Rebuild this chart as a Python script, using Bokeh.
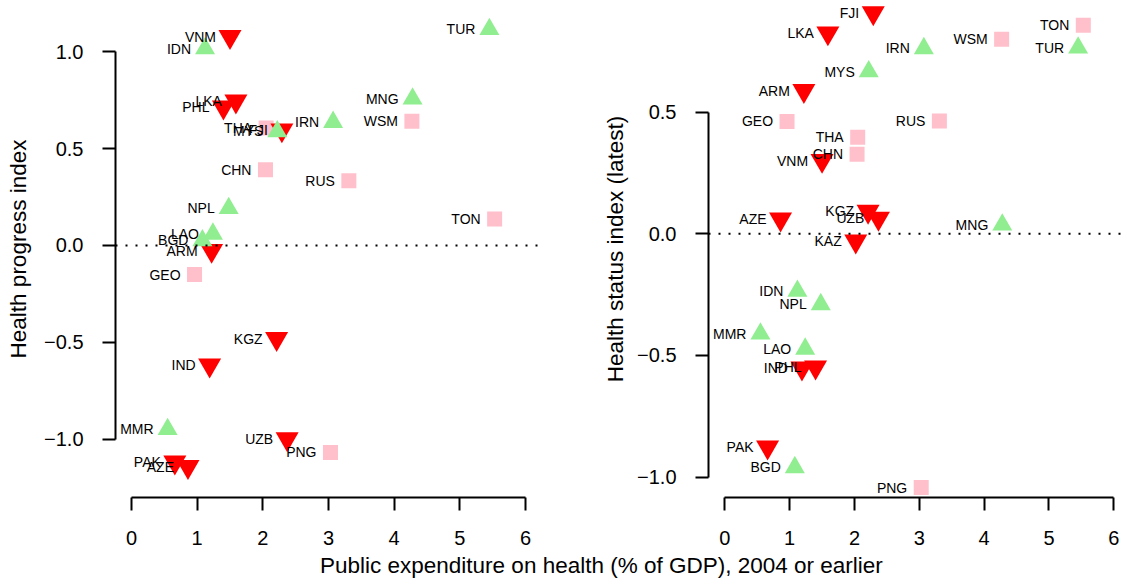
import math
from bokeh.plotting import figure
from bokeh.models import ColumnDataSource, FixedTicker, Span, Div, CustomJSTickFormatter, Range1d
from bokeh.layouts import row, column
from bokeh.core.properties import value
from bokeh.embed import file_html
from bokeh.resources import INLINE

# ---------------- data ----------------
countries = ["TUR", "VNM", "IDN", "MNG", "LKA", "PHL", "THA", "MYS", "FJI", "IRN",
             "WSM", "CHN", "RUS", "NPL", "TON", "LAO", "BGD", "ARM", "GEO", "KGZ",
             "IND", "MMR", "UZB", "PNG", "PAK", "AZE", "KAZ"]
groups = ["up", "down", "up", "up", "down", "down", "square", "up", "down", "up",
          "square", "square", "square", "up", "square", "up", "up", "down", "square", "down",
          "down", "up", "down", "square", "down", "down", "down"]
expenditure = [5.45, 1.50, 1.12, 4.28, 1.59, 1.40, 2.05, 2.22, 2.29, 3.07,
               4.27, 2.04, 3.31, 1.48, 5.53, 1.24, 1.08, 1.22, 0.96, 2.21,
               1.19, 0.55, 2.37, 3.03, 0.66, 0.86, 2.02]
progress = [1.115, 1.076, 1.015, 0.756, 0.744, 0.713, 0.606, 0.588, 0.595, 0.636,
            0.640, 0.390, 0.334, 0.192, 0.137, 0.060, 0.026, -0.026, -0.150, -0.480,
            -0.617, -0.947, -0.997, -1.067, -1.117, -1.140, float("nan")]
status = [0.765, 0.301, -0.235, 0.037, 0.825, -0.548, 0.397, 0.667, 0.908, 0.762,
          0.800, 0.327, 0.464, -0.290, 0.857, -0.473, -0.960, 0.588, 0.462, 0.092,
          -0.552, -0.411, 0.063, -1.043, -0.877, 0.060, -0.030]

x_ticks = [0, 1, 2, 3, 4, 5, 6]
left_y_ticks = [-1.0, -0.5, 0.0, 0.5, 1.0]
right_y_ticks = [-1.0, -0.5, 0.0, 0.5]

styles = {
    "up": dict(marker="triangle", size=20, color="#90EE90"),
    "down": dict(marker="inverted_triangle", size=23, color="#FF0000"),
    "square": dict(marker="square", size=15, color="#FFC0CB"),
}

FONT = "Liberation Sans"


def make_panel(yvals, ylabel, width, border_left, border_right, xr, yr, yticks, label_standoff):
    p = figure(width=width, height=556, output_backend="svg", toolbar_location=None,
               x_range=Range1d(*xr), y_range=Range1d(*yr),
               min_border_left=border_left, min_border_right=border_right,
               min_border_top=0, min_border_bottom=59)
    p.background_fill_color = "white"
    p.border_fill_color = "white"
    p.outline_line_color = None
    p.grid.visible = False

    p.add_layout(Span(location=0, dimension="width", line_color="black",
                      line_width=2, line_dash="2 8"))

    valid = [i for i in range(len(countries)) if not math.isnan(yvals[i])]
    for g in ["square", "down", "up"]:
        idx = [i for i in valid if groups[i] == g]
        src = ColumnDataSource(dict(x=[expenditure[i] for i in idx],
                                    y=[yvals[i] for i in idx]))
        st = styles[g]
        p.scatter("x", "y", source=src, marker=st["marker"], size=st["size"],
                  fill_color=st["color"], line_color=None)

    tsrc = ColumnDataSource(dict(x=[expenditure[i] for i in valid],
                                 y=[yvals[i] for i in valid],
                                 name=[countries[i] for i in valid]))
    p.text("x", "y", text="name", source=tsrc, x_offset=-14, text_align="right",
           text_baseline="middle", text_font=value(FONT), text_font_size="14px",
           text_color="black")

    for ax in (p.xaxis[0], p.yaxis[0]):
        ax.axis_line_width = 2
        ax.axis_line_color = "black"
        ax.major_tick_line_width = 2
        ax.major_tick_line_color = "black"
        ax.major_tick_out = 13
        ax.major_tick_in = 0
        ax.minor_tick_line_color = None
        ax.major_label_text_font = FONT
        ax.major_label_text_font_size = "20px"
        ax.major_label_text_color = "black"
        ax.axis_label_text_font = FONT
        ax.axis_label_text_font_size = "22.5px"
        ax.axis_label_text_font_style = "normal"
        ax.axis_label_text_color = "black"

    p.xaxis.ticker = FixedTicker(ticks=x_ticks)
    p.xaxis.bounds = (min(x_ticks), max(x_ticks))
    p.xaxis.major_label_standoff = 20

    p.yaxis.ticker = FixedTicker(ticks=yticks)
    p.yaxis.bounds = (min(yticks), max(yticks))
    p.yaxis.major_label_standoff = 19
    p.yaxis.major_label_orientation = "horizontal"
    p.yaxis.formatter = CustomJSTickFormatter(
        code="return (tick < 0 ? '\\u2212' : '') + Math.abs(tick).toFixed(1);")
    p.yaxis.axis_label = ylabel
    p.yaxis.axis_label_standoff = label_standoff
    return p


p1 = make_panel(progress, "Health progress index", 600, 115, 59,
                (-0.2436, 6.2436), (-1.299, 1.2629), left_y_ticks, 10)
p2 = make_panel(status, "Health status index (latest)", 528, 108, 0,
                (-0.2514, 6.227), (-1.0838, 0.9589), right_y_ticks, 6)

xlabel = Div(
    text=('<div style="position:relative; top:-6px; margin-left:315px; white-space:nowrap;'
          ' font-family:\'Liberation Sans\'; font-size:22.5px; line-height:22px; color:black;">'
          'Public expenditure on health (% of GDP), 2004 or earlier</div>'),
    width=1128, height=22)

layout = column(row(p1, p2), xlabel)

open("out.html", "w").write(file_html(layout, INLINE))
